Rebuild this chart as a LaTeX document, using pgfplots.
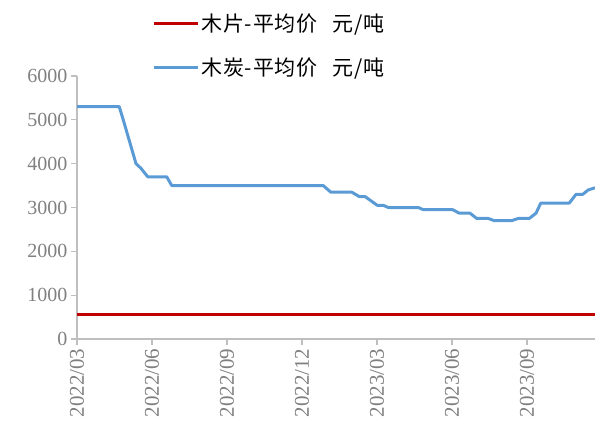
\documentclass[border=0pt]{standalone}
\usepackage{pgfplots}
\pgfplotsset{compat=1.18}
\usepackage{fontspec}
\setmainfont{Liberation Serif}
\newfontfamily\cjk[LetterSpace=4]{Noto Sans CJK SC}
\definecolor{redl}{HTML}{C00000}
\definecolor{bluel}{HTML}{5B9BD5}
\definecolor{axg}{HTML}{BFBFBF}
\definecolor{txg}{HTML}{808080}
\begin{document}
\begin{tikzpicture}
\begin{axis}[
  name=ax,
  scale only axis,
  width=518pt, height=263pt,
  xmin=0, xmax=20.72,
  ymin=0, ymax=6000,
  ytick={0,1000,...,6000},
  xtick={0,3,6,9,12,15,18},
  xticklabels={2022/03,2022/06,2022/09,2022/12,2023/03,2023/06,2023/09},
  x tick label style={rotate=90, anchor=east, font=\fontsize{21}{23}\selectfont, text=txg},
  y tick label style={font=\fontsize{20}{22}\selectfont, text=txg},
  /pgf/number format/assume math mode=true,
  /pgf/number format/1000 sep={},
  axis x line=bottom, axis y line=left,
  axis line style={-, axg, line width=1.2pt},
  tick style={axg, line width=1.2pt},
  tick align=outside,
  major tick length=6pt,
  clip=false,
  legend style={draw=none, fill=none, at={(0.145,1.245)}, anchor=north west,
    font=\cjk\fontsize{21}{23}\selectfont, row sep=21pt, inner sep=0pt},
  legend cell align=left,
  legend image code/.code={\draw[#1] (0pt,0pt) -- (44pt,0pt);},
]
\addplot[redl, line width=3pt] coordinates {(0,550) (20.72,550)};
\addlegendentry{木片-平均价\hspace{0.7em}元/吨}
\addplot[bluel, line width=3pt, line join=round] coordinates {
(0,5300)(1.69,5300)(1.85,5000)(2.36,4000)(2.55,3900)(2.83,3700)(3.59,3700)(3.79,3500)
(9.85,3500)(10.15,3350)(10.99,3350)(11.29,3250)(11.52,3250)(12.01,3050)(12.25,3050)
(12.45,3000)(13.65,3000)(13.85,2950)(15.03,2950)(15.29,2870)(15.72,2870)(15.99,2750)
(16.45,2750)(16.69,2700)(17.39,2700)(17.65,2750)(18.09,2750)(18.36,2870)(18.55,3100)
(19.69,3100)(19.96,3300)(20.23,3300)(20.45,3400)(20.72,3450)};
\addlegendentry{木炭-平均价\hspace{0.7em}元/吨}
\end{axis}
\pgfresetboundingbox
\path (ax.south west) ++(-77pt,-91pt) coordinate (bl);
\path (ax.north east) ++(0pt,76pt) coordinate (tr);
\path (bl) rectangle (tr);
\end{tikzpicture}
\end{document}
